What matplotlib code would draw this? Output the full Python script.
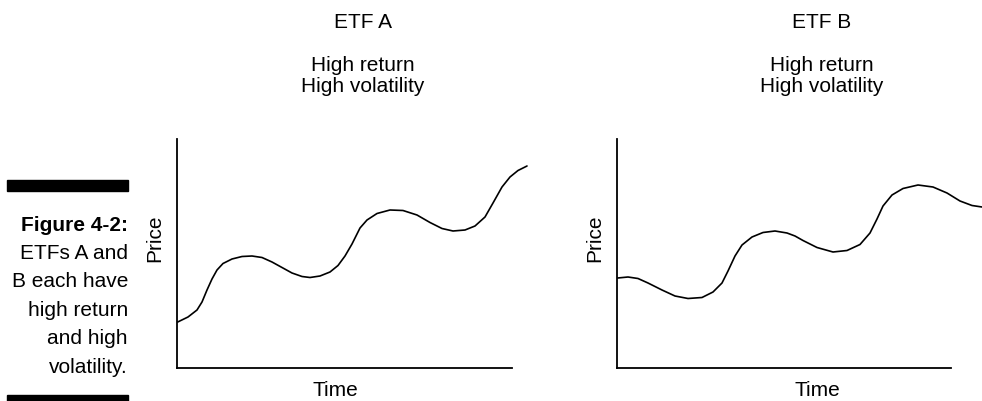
import matplotlib
matplotlib.use("Agg")
import matplotlib.pyplot as plt
from matplotlib.patches import Rectangle

plt.rcParams['font.family'] = ['Liberation Sans Narrow', 'Liberation Sans', 'DejaVu Sans']

# price path (time, price) in axis units
etf_a_time = [0.7, 11, 20, 25, 30, 35, 40, 46, 55, 65, 75, 85, 95, 105, 115, 125,
              133, 143, 153, 161, 168, 175, 178, 183, 190, 200, 213, 226, 240,
              253, 265, 276, 288, 298, 308, 316, 325, 333, 341, 350]
etf_a_price = [46, 51, 58, 66, 78, 89, 98, 104.5, 109, 111.5, 112, 110.5, 106, 100.5, 95,
               91.5, 90.5, 92, 96, 102.5, 112, 124, 130, 140, 148, 154.5, 158, 157.5, 153,
               145.5, 139.5, 137, 138, 142, 151, 165, 181, 191, 197.5, 202]

etf_b_time = [0.7, 11, 21, 31, 45, 58, 71, 85, 96, 105, 111, 118, 125, 135, 146,
              158, 170, 178, 186, 200, 216, 230, 243, 253, 260, 266, 275, 286,
              301, 316, 330, 343, 355, 365]
etf_b_price = [90, 91, 89.5, 85, 78, 72, 69.5, 70.5, 76, 85, 97, 112, 123, 131, 135.5,
               137, 135, 132, 127.5, 120.5, 116, 117.5, 123.5, 135, 149, 162, 173, 179.5,
               183, 181, 175, 167, 162.5, 161]

titles = ["ETF A", "ETF B"]
subtitles = ["High return\nHigh volatility", "High return\nHigh volatility"]
caption_bold = "Figure 4-2:"
caption_lines = ["ETFs A and", "B each have", "high return", "and high", "volatility."]

W, H = 982, 401
fig = plt.figure(figsize=(W / 100, H / 100), dpi=100)


def px(x, y):
    return x / W, 1 - y / H


panels = [
    (177, 512, etf_a_time, etf_a_price, 363, 155, 335),
    (617, 951, etf_b_time, etf_b_price, 822, 595, 817),
]
top, bottom = 139, 368

for i, (x0, x1, t, p, tx, price_x, time_x) in enumerate(panels):
    ax = fig.add_axes([x0 / W, 1 - bottom / H, (x1 - x0) / W, (bottom - top) / H])
    ax.plot(t, p, color='black', lw=1.2, clip_on=False,
            solid_joinstyle='round', solid_capstyle='round')
    ax.set_xlim(0, x1 - x0)
    ax.set_ylim(0, bottom - top)
    for s in ['top', 'right']:
        ax.spines[s].set_visible(False)
    for s in ['left', 'bottom']:
        ax.spines[s].set_linewidth(1.3)
    ax.set_xticks([])
    ax.set_yticks([])
    ax.patch.set_alpha(0)

    fig.text(*px(tx, 28), titles[i], ha='center', va='baseline', fontsize=15)
    fig.text(*px(tx, 76), subtitles[i], ha='center', va='center', fontsize=15,
             linespacing=1.1)
    fig.text(*px(price_x, 238), "Price", ha='center', va='center', rotation=90,
             fontsize=15)
    fig.text(*px(time_x, 391), "Time", ha='center', va='center', fontsize=15)

# sidebar caption with black rules
fig.patches.append(Rectangle(px(7, 191), 121 / W, 11 / H, transform=fig.transFigure,
                             color='black'))
fig.patches.append(Rectangle(px(7, 401), 121 / W, 6 / H, transform=fig.transFigure,
                             color='black'))
fig.text(*px(128, 231), caption_bold, ha='right', va='baseline', fontsize=15,
         fontweight='bold')
for j, line in enumerate(caption_lines):
    fig.text(*px(128, 259 + j * 28.4), line, ha='right', va='baseline', fontsize=15)

fig.savefig("out.png", dpi=100)
